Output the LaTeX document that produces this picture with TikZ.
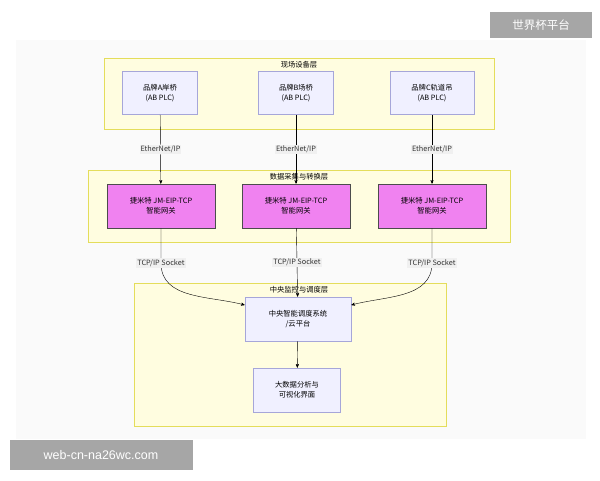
\documentclass[tikz,border=0pt]{standalone}
\usepackage{fontspec}
\setmainfont{Noto Sans CJK SC}
\setsansfont{Liberation Sans}
\usetikzlibrary{arrows, positioning}
\definecolor{gwfill}{RGB}{240,130,240}

\begin{document}
\begin{tikzpicture}[x=1pt, y=-1pt, ->, >=stealth', font=\fontsize{7.3}{10}\selectfont]
    \tikzstyle{layer} = [draw=yellow!60!olive!60, fill=yellow!12, line width=0.6pt]
    \tikzstyle{device} = [draw=gray!60!blue!50, fill=blue!6, minimum width=75pt,
        minimum height=43pt, align=center, line width=0.6pt]
    \tikzstyle{gateway} = [draw=black!70, fill=gwfill, minimum width=108pt,
        minimum height=44pt, align=center, line width=0.6pt]
    \tikzstyle{proto} = [fill=gray!12, inner sep=1pt, text=black!80]
    \tikzstyle{watermark} = [fill=gray!70, text=white, font=\fontsize{11.5}{13}\selectfont]
    \useasboundingbox (0,0) rectangle (600,480);
    \fill[white] (0,0) rectangle (600,480);
    \fill[gray!4] (16,40) rectangle (586,439);
    % layers
    \draw[layer, -] (104,58) rectangle (494,129);
    \node at (299,65) {现场设备层};
    \draw[layer, -] (88,170) rectangle (510,242);
    \node at (299,177) {数据采集与转换层};
    \draw[layer, -] (134,283) rectangle (446,426);
    \node at (299,290) {中央监控与调度层};
    % nodes
    \node [device] at (160,93) (plcA) {品牌A岸桥\\(AB PLC)};
    \node [device] at (296,93) (plcB) {品牌B场桥\\(AB PLC)};
    \node [device, minimum width=84pt] at (432,93) (plcC) {品牌C轨道吊\\(AB PLC)};
    \node [gateway] at (161,206) (gwA) {捷米特 JM-EIP-TCP\\智能网关};
    \node [gateway] at (296,206) (gwB) {捷米特 JM-EIP-TCP\\智能网关};
    \node [gateway] at (432,206) (gwC) {捷米特 JM-EIP-TCP\\智能网关};
    \node [device, minimum width=106pt, minimum height=44pt] at (298,319) (center) {中央智能调度系统\\/云平台};
    \node [device, minimum width=87pt, minimum height=44pt] at (297,390) (bigdata) {大数据分析与\\可视化界面};
    % links
    \draw (plcA) -- node[proto] {EtherNet/IP} (gwA);
    \draw (plcB) -- node[proto] {EtherNet/IP} (gwB);
    \draw (plcC) -- node[proto] {EtherNet/IP} (gwC);
    \draw (gwA.south) -- (161,263) node[proto] {TCP/IP Socket}
        to[out=-90, in=165] (center.west |- 0,305);
    \draw (gwB) -- node[proto, pos=0.5] {TCP/IP Socket} (center);
    \draw (gwC.south) -- (432,263) node[proto] {TCP/IP Socket}
        to[out=-90, in=15] (center.east |- 0,305);
    \draw (center) -- (bigdata);
    % watermarks
    \node [watermark, minimum width=102pt, minimum height=26pt] at (541,25) (wmTop) {世界杯平台};
    \node [watermark, minimum width=183pt, minimum height=30pt, font=\fontsize{12.5}{14}\selectfont\sffamily] at (101,455) (wmBottom) {web-cn-na26wc.com};
\end{tikzpicture}
\end{document}
